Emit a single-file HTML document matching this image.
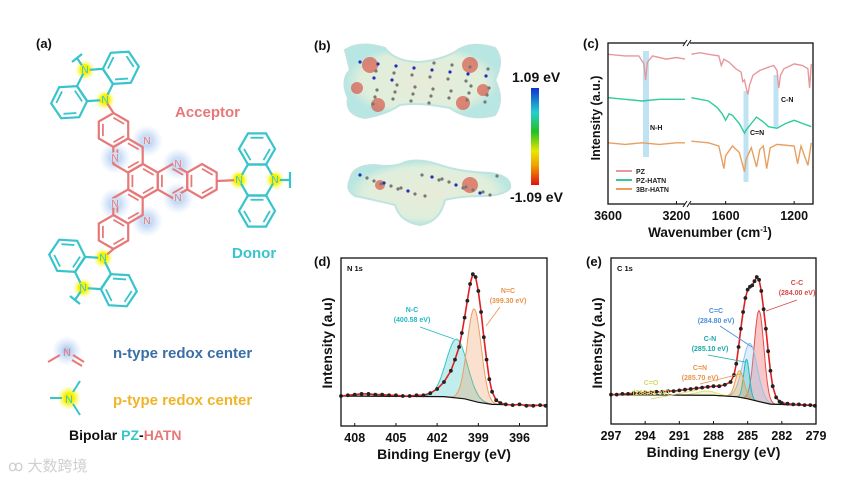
<!DOCTYPE html>
<html><head><meta charset="utf-8"><style>
html,body{margin:0;padding:0;background:#fff;}
svg{display:block;font-family:"Liberation Sans",Arial,sans-serif;}
</style></head><body>
<svg id="fig" width="865" height="481" viewBox="0 0 865 481" xmlns="http://www.w3.org/2000/svg">
<defs>
<radialGradient id="gblue"><stop offset="0" stop-color="#8fb8ee" stop-opacity="0.9"/><stop offset="1" stop-color="#b8d2f4" stop-opacity="0"/></radialGradient>
<radialGradient id="gyel"><stop offset="0.4" stop-color="#f6f200"/><stop offset="1" stop-color="#fafa60" stop-opacity="0"/></radialGradient>
<linearGradient id="cbar" x1="0" y1="1" x2="0" y2="0"><stop offset="0" stop-color="#e01010"/><stop offset="0.2" stop-color="#f0a000"/><stop offset="0.35" stop-color="#e8e800"/><stop offset="0.55" stop-color="#20c020"/><stop offset="0.75" stop-color="#20d0d0"/><stop offset="1" stop-color="#1030d0"/></linearGradient>
<radialGradient id="esp"><stop offset="0" stop-color="#e8ecd8"/><stop offset="0.8" stop-color="#dfeedc"/><stop offset="1" stop-color="#b8e6e2"/></radialGradient>
</defs>
<g id="panelA"></g>
<g id="panelB"></g>
<g id="panelC"></g>
<g id="panelD"></g>
<g id="panelE"></g>
</svg>
<script>
// ---------- Panel C data (FTIR) ----------
const pzLeftX=[3600,3500,3420,3390,3380,3370,3340,3260,3200,3150];
const pzLeftY=[93,92,92,87,77,88,92,90,91,90];
const pzRightX=[1800,1750,1700,1640,1625,1610,1580,1540,1510,1500,1490,1480,1470,1460,1440,1400,1350,1320,1300,1290,1280,1260,1200,1150,1120,1110,1100];
const pzRightY=[93,94,93,92,86,90,88,84,82,76,77,72,68,74,80,83,85,86,83,72,80,84,87,86,84,72,87];
const hatnLeftX=[3600,3500,3400,3300,3200,3150];
const hatnLeftY=[66,65,64,65,65,65];
const hatnRightX=[1800,1700,1650,1620,1600,1580,1560,1520,1500,1490,1480,1450,1420,1380,1350,1300,1250,1200,1150,1100];
const hatnRightY=[66,64,60,56,52,56,55,50,46,44,46,50,54,51,48,47,50,52,50,48];
const brLeftX=[3600,3500,3400,3300,3200,3150];
const brLeftY=[38,37,38,37,38,38];
const brRightX=[1800,1700,1640,1610,1600,1560,1520,1490,1480,1450,1420,1400,1380,1360,1340,1300,1200,1180,1160,1120,1100];
const brRightY=[39,38,36,22,30,36,32,20,28,35,23,34,36,22,35,37,36,25,36,24,38];
const irTicks=[3600,3200,1600,1200];
const irSeriesNames=["PZ","PZ-HATN","3Br-HATN"];
// ---------- Panel D data (N 1s XPS) ----------
const n1sE=[409,408.5,408,407.5,407,406.5,406,405.5,405,404.5,404,403.5,403,402.5,402,401.5,401,400.7,400.4,400.2,400,399.8,399.6,399.4,399.2,399,398.8,398.6,398.4,398.2,398,397.7,397.4,397,396.5,396,395.5,395,394.5,394.1];
const n1sI=[10,10.5,11,11.5,11.5,11,11,10.5,10.5,10,10,10.5,10.5,12,15,20,28,36,45,55,66,78,90,97,95,85,70,52,36,22,13,7,5,4,3.5,4,3,3,3.5,3];
const n1sCompCenter=[400.58,399.30];
const n1sCompHeight=[42,66];
const n1sCompFwhm=[1.8,1.2];
const n1sBgE=[409,401.5,400,399,398,394];
const n1sBgI=[10,9.6,8,5.5,4,3.3];
const n1sTicks=[408,405,402,399,396];
// ---------- Panel E data (C 1s XPS) ----------
const c1sE=[297,296.5,296,295.5,295,294.5,294,293.5,293,292.5,292,291.5,291,290.5,290,289.5,289,288.5,288,287.5,287,286.5,286.2,286,285.8,285.6,285.4,285.2,285,284.8,284.6,284.4,284.2,284,283.8,283.6,283.4,283.2,283,282.8,282.5,282.2,282,281.5,281,280.5,280,279.5,279.1];
const c1sI=[11,11,11.5,11.5,12,12,12.5,12.5,13,13,13.5,13.5,14,14.5,15,15.5,16,16.5,17,17,18,20,25,33,45,58,70,80,86,88,89,92,95,93,85,72,58,42,28,17,9,6,5,4.5,4,4,3.5,3.5,3];
const c1sCompCenter=[284.00,284.80,285.10,285.70,288.61];
const c1sCompHeight=[65,40,28,19,3];
const c1sCompFwhm=[1.0,1.5,0.6,0.9,2.0];
const c1sBgE=[297,288,286,285,284,283,279];
const c1sBgI=[11,10.5,9.5,8,6,4.2,3.2];
const c1sTicks=[297,294,291,288,285,282,279];

const NS="http://www.w3.org/2000/svg";
function mk(parent,tag,attrs,text){const e=document.createElementNS(NS,tag);for(const k in attrs)e.setAttribute(k,attrs[k]);if(text!==undefined)e.textContent=text;parent.appendChild(e);return e;}
function pts(xs,ys,fx,fy){return xs.map((x,i)=>fx(x).toFixed(1)+","+fy(ys[i]).toFixed(1)).join(" ");}

// ================= Panel A =================
(function(){
const g=document.getElementById('panelA');
const RED="#e87878",CY="#38c4cc";
let t=mk(g,'text',{x:36,y:48,'font-size':13,'font-weight':'bold',fill:'#111'},'(a)');

const glowsB=[[115,158],[115,204],[147,141],[147,221],[178,164],[178,198]];
glowsB.forEach(p=>{const c=mk(g,'circle',{cx:p[0],cy:p[1],r:16,fill:'url(#gblue)'});});
const glowsY=[[85,70],[105,100],[239,180],[275,180],[103,258],[83,288]];
glowsY.forEach(p=>{const c=mk(g,'circle',{cx:p[0],cy:p[1],r:10,fill:'url(#gyel)'});});
function hex(cx,cy,r,col,rot,inner){let s="";for(let i=0;i<6;i++){const a=(rot+60*i)*Math.PI/180;s+=(cx+r*Math.cos(a)).toFixed(1)+","+(cy+r*Math.sin(a)).toFixed(1)+" ";}
 const p=mk(g,'polygon',{points:s,fill:'none',stroke:col,'stroke-width':2.2});
 if(inner){for(let i=0;i<6;i+=2){const a1=(rot+60*i)*Math.PI/180,a2=(rot+60*(i+1))*Math.PI/180,q=r*0.72;mk(g,'line',{x1:cx+q*Math.cos(a1),y1:cy+q*Math.sin(a1),x2:cx+q*Math.cos(a2),y2:cy+q*Math.sin(a2),stroke:col,'stroke-width':1.8});}}}
function ln(x1,y1,x2,y2,c){mk(g,'line',{x1:x1,y1:y1,x2:x2,y2:y2,stroke:c,'stroke-width':2.2});}
// acceptor (pointy-top hexagons)
const r=17;
hex(143,181,r,RED,30,true);
hex(172.5,181,r,RED,30,true);hex(202,181,r,RED,30,true);
hex(128,155.5,r,RED,30,true);hex(113.5,130,r,RED,30,true);
hex(128,206.5,r,RED,30,true);hex(113.5,232,r,RED,30,true);
// donor right
hex(257,180,18,CY,0,false);hex(257,149,18,CY,0,true);hex(257,211,18,CY,0,true);
ln(216.7,181,239,180,RED);ln(275,180,290,180,CY);ln(290,172,290,188,CY);
// donor top
hex(95,85,18,CY,56.3,false);hex(120.8,67.8,18,CY,56.3,true);hex(69.2,102.2,18,CY,56.3,true);
ln(105,100,113.5,113,RED);ln(85,70,77,58,CY);ln(72,62,82,54,CY);
// donor bottom
hex(93,273,18,CY,123.7,false);hex(118.8,290.2,18,CY,123.7,true);hex(67.2,255.8,18,CY,123.7,true);
ln(103,258,113.5,249,RED);ln(83,288,75,300,CY);ln(70,296,80,304,CY);
[[178,164],[178,198],[115,158],[115,204],[147,141],[147,221]].forEach(p=>{mk(g,'circle',{cx:p[0],cy:p[1]-1,r:5,fill:'#cfe0f6'});mk(g,'text',{x:p[0],y:p[1]+3,'font-size':10,'text-anchor':'middle',fill:RED},'N');});
[[85,70],[105,100],[239,180],[275,180],[103,258],[83,288]].forEach(p=>{mk(g,'circle',{cx:p[0],cy:p[1]-1,r:5,fill:'#f6f200'});mk(g,'text',{x:p[0],y:p[1]+3,'font-size':10,'text-anchor':'middle',fill:CY},'N');});
t=mk(g,'text',{x:175,y:117,'font-size':15,'font-weight':'bold',fill:RED},'Acceptor');
t=mk(g,'text',{x:232,y:258,'font-size':15,'font-weight':'bold',fill:CY},'Donor');
// legend
mk(g,'circle',{cx:67,cy:351,r:15,fill:'url(#gblue)'});
mk(g,'text',{x:67,y:356,'font-size':11,'text-anchor':'middle',fill:RED},'N');
mk(g,'line',{x1:48,y1:362,x2:60,y2:355,stroke:RED,'stroke-width':2});
mk(g,'line',{x1:73,y1:355,x2:84,y2:362,stroke:RED,'stroke-width':2});
mk(g,'line',{x1:72,y1:360,x2:82,y2:366,stroke:RED,'stroke-width':2});
t=mk(g,'text',{x:113,y:358,'font-size':15,'font-weight':'bold',fill:'#3a6ea8'},'n-type redox center');
mk(g,'circle',{cx:69,cy:398,r:12,fill:'url(#gyel)'});
mk(g,'text',{x:69,y:403,'font-size':11,'text-anchor':'middle',fill:CY},'N');
mk(g,'line',{x1:50,y1:398,x2:62,y2:398,stroke:CY,'stroke-width':2});
mk(g,'line',{x1:73,y1:392,x2:80,y2:381,stroke:CY,'stroke-width':2});
mk(g,'line',{x1:73,y1:404,x2:80,y2:415,stroke:CY,'stroke-width':2});
t=mk(g,'text',{x:113,y:405,'font-size':15,'font-weight':'bold',fill:'#f0b428'},'p-type redox center');
t=mk(g,'text',{x:69,y:440,'font-size':14,'font-weight':'bold',fill:'#111'});
mk(t,'tspan',{},'Bipolar ');mk(t,'tspan',{fill:CY},'PZ');mk(t,'tspan',{},'-');mk(t,'tspan',{fill:RED},'HATN');
t=mk(g,'text',{x:8,y:471,'font-size':15,fill:'#cfcfcf','font-family':'"Liberation Sans","Noto Sans CJK SC",sans-serif'},'ꝏ 大数跨境');
})();

// ================= Panel B =================
(function(){
const g=document.getElementById('panelB');
let t=mk(g,'text',{x:314,y:50,'font-size':13,'font-weight':'bold',fill:'#111'},'(b)');
let b=mk(g,'path',{d:'M345,50 Q360,40 385,48 Q395,62 420,62 Q440,60 455,52 Q470,40 495,48 Q505,60 495,80 Q505,100 495,115 Q470,122 450,108 Q420,102 400,105 Q385,115 365,118 Q345,115 348,98 Q340,80 350,70 Z',fill:'url(#esp)',stroke:'#bfe4e0','stroke-width':2});

b=mk(g,'path',{d:'M350,180 Q352,165 375,165 Q395,168 405,162 Q420,158 440,165 Q460,172 490,173 Q512,176 510,188 Q505,195 485,196 Q460,196 445,200 Q440,222 420,225 Q400,222 395,205 Q375,200 355,196 Q345,190 350,180 Z',fill:'url(#esp)',stroke:'#bfe4e0','stroke-width':2});

[[370,65,8],[357,88,6],[378,105,7],[470,65,8],[483,90,6],[463,103,7],[470,185,8],[380,185,5]].forEach(p=>mk(g,'circle',{cx:p[0],cy:p[1],r:p[2],fill:'#d84030',opacity:0.6}));
for(let i=0;i<40;i++){mk(g,'circle',{cx:360+((i*37)%130),cy:62+((i*23)%45),r:1.6,fill:i%4?'#777':'#2030b0'});}
for(let i=0;i<24;i++){mk(g,'circle',{cx:360+((i*41)%140),cy:175+((i*13)%22),r:1.6,fill:i%4?'#777':'#2030b0'});}
b=mk(g,'rect',{x:531,y:88,width:8,height:97,fill:'url(#cbar)'});
t=mk(g,'text',{x:512,y:82,'font-size':14,'font-weight':'bold',fill:'#111'},'1.09 eV');
t=mk(g,'text',{x:510,y:202,'font-size':14,'font-weight':'bold',fill:'#111'},'-1.09 eV');
})();

// ================= Panel C =================
(function(){
const g=document.getElementById('panelC');
const L=608,R=813,T=43,B=204,BRK=687;
const fxL=w=>L+(3600-w)*(BRK-2-L)/(3600-3150);
const fxR=w=>BRK+3+(1808-w)*(R-BRK-3)/(1808-1090);
const fy=v=>B-v*1.61;
let t=mk(g,'text',{x:583,y:48,'font-size':13,'font-weight':'bold',fill:'#111'},'(c)');
[[646,6,51,157],[746,5,91,182],[776,5,75,128]].forEach(h=>{const r=mk(g,'rect',{x:h[0]-h[1]/2,y:h[2],width:h[1],height:h[3]-h[2],fill:'#bfe3f3'});});
const cols=["#e8989c","#2ecc9c","#e8a060"];
const sets=[[pzLeftX,pzLeftY,pzRightX,pzRightY],[hatnLeftX,hatnLeftY,hatnRightX,hatnRightY],[brLeftX,brLeftY,brRightX,brRightY]];
sets.forEach((s,i)=>{
 let p=mk(g,'polyline',{points:pts(s[0],s[1],fxL,fy),fill:'none',stroke:cols[i],'stroke-width':1.4});
 
 p=mk(g,'polyline',{points:pts(s[2],s[3],fxR,fy),fill:'none',stroke:cols[i],'stroke-width':1.4});
 
});
let f=mk(g,'rect',{x:L,y:T,width:R-L,height:B-T,fill:'none',stroke:'#111','stroke-width':1.3});
mk(g,'rect',{x:BRK-2,y:T-4,width:5,height:8,fill:'#fff'});mk(g,'rect',{x:BRK-2,y:B-4,width:5,height:8,fill:'#fff'});
[T,B].forEach(y=>{mk(g,'line',{x1:BRK-4,y1:y+3,x2:BRK,y2:y-3,stroke:'#111','stroke-width':1});mk(g,'line',{x1:BRK,y1:y+3,x2:BRK+4,y2:y-3,stroke:'#111','stroke-width':1});});
irTicks.forEach((w,i)=>{const x=i<2?fxL(w):fxR(w);t=mk(g,'text',{x:x,y:220,'font-size':12.5,'font-weight':'bold','text-anchor':'middle',fill:'#111'},w);mk(g,'line',{x1:x,y1:B,x2:x,y2:B-3,stroke:'#111'});});
t=mk(g,'text',{x:710,y:237,'font-size':13.5,'font-weight':'bold','text-anchor':'middle',fill:'#111'});
mk(t,'tspan',{},'Wavenumber (cm');mk(t,'tspan',{'font-size':8,dy:-5},'-1');mk(t,'tspan',{dy:5},')');
t=mk(g,'text',{x:0,y:0,'font-size':12.5,'font-weight':'bold','text-anchor':'middle',fill:'#111',transform:'translate(600,118) rotate(-90)'},'Intensity (a.u.)');
[["N-H",650,130],["C=N",750,135],["C-N",781,102]].forEach(a=>{t=mk(g,'text',{x:a[1],y:a[2],'font-size':7,'font-weight':'bold',fill:'#111'},a[0]);});
irSeriesNames.forEach((n,i)=>{const y=171+i*9;mk(g,'line',{x1:616,y1:y,x2:632,y2:y,stroke:cols[i],'stroke-width':2});t=mk(g,'text',{x:636,y:y+3,'font-size':7,'font-weight':'bold',fill:'#222'},n);});
})();

// ================= XPS helper =================
function xps(gid,L,R,T,B,Emax,Emin,E,I,cc,ch,cw,bgE,bgI,ticks,cols,label,lx,core,annos){
 const g=document.getElementById(gid);
 const fx=e=>L+(Emax-e)*(R-L)/(Emax-Emin);
 const fy=v=>410-v*1.4;
 const bgAt=e=>{for(let i=0;i<bgE.length-1;i++){if(e<=bgE[i]&&e>=bgE[i+1]){const f=(bgE[i]-e)/(bgE[i]-bgE[i+1]);return bgI[i]+f*(bgI[i+1]-bgI[i]);}}return bgI[bgI.length-1];};
 let t=mk(g,'text',{x:lx,y:266,'font-size':13,'font-weight':'bold',fill:'#111'},label);
 const grid=[];for(let e=Emax;e>=Emin-1e-9;e-=0.05)grid.push(e);
 cc.forEach((c,k)=>{
  const comp=e=>ch[k]*Math.exp(-4*Math.LN2*Math.pow((e-c)/cw[k],2));
  let top=grid.map(e=>fx(e).toFixed(1)+","+fy(bgAt(e)+comp(e)).toFixed(1)).join(" ");
  let bot=grid.slice().reverse().map(e=>fx(e).toFixed(1)+","+fy(bgAt(e)).toFixed(1)).join(" ");
  let p=mk(g,'polygon',{points:top+" "+bot,fill:cols[k],'fill-opacity':0.3,stroke:'none'});
  p=mk(g,'polyline',{points:top,fill:'none',stroke:cols[k],'stroke-width':1});
 });
 let p=mk(g,'polyline',{points:pts(bgE,bgI,fx,fy),fill:'none',stroke:'#111','stroke-width':1.2});
 p=mk(g,'polyline',{points:pts(E,I,fx,fy),fill:'none',stroke:'#e02020','stroke-width':1.6});
 E.forEach((e,i)=>{const c=mk(g,'circle',{cx:fx(e),cy:fy(I[i]),r:1.9,fill:'#222'});});
 let f=mk(g,'rect',{x:L,y:T,width:R-L,height:B-T,fill:'none',stroke:'#111','stroke-width':1.3});
 ticks.forEach(v=>{const x=fx(v);mk(g,'line',{x1:x,y1:B,x2:x,y2:B-3,stroke:'#111'});t=mk(g,'text',{x:x,y:B+16,'font-size':12.5,'font-weight':'bold','text-anchor':'middle',fill:'#111'},v);});
 t=mk(g,'text',{x:(L+R)/2,y:B+33,'font-size':14,'font-weight':'bold','text-anchor':'middle',fill:'#111'},'Binding Energy (eV)');
 t=mk(g,'text',{x:0,y:0,'font-size':14,'font-weight':'bold','text-anchor':'middle',fill:'#111',transform:'translate('+(L-9)+','+(T+85)+') rotate(-90)'},'Intensity (a.u)');
 t=mk(g,'text',{x:L+6,y:T+13,'font-size':7.5,'font-weight':'bold',fill:'#111'},core);
 annos.forEach(a=>{t=mk(g,'text',{x:a[1],y:a[2],'font-size':7,'font-weight':'bold','text-anchor':'middle',fill:a[3]},a[0]);
  t=mk(g,'text',{x:a[1],y:a[2]+10,'font-size':7,'font-weight':'bold','text-anchor':'middle',fill:a[3]},a[4]);
  mk(g,'line',{x1:a[5],y1:a[6],x2:a[7],y2:a[8],stroke:a[3],'stroke-width':0.8});});
}
xps('panelD',341,547,258,426,409.0,394.0,n1sE,n1sI,n1sCompCenter,n1sCompHeight,n1sCompFwhm,n1sBgE,n1sBgI,n1sTicks,["#2ec8c8","#f09a60"],'(d)',314,'N 1s',
 [["N-C",412,312,"#22b8c0","(400.58 eV)",420,327,454,339],["N=C",508,293,"#e8944a","(399.30 eV)",500,307,486,326]]);
xps('panelE',611,816,258,424,297,279,c1sE,c1sI,c1sCompCenter,c1sCompHeight,c1sCompFwhm,c1sBgE,c1sBgI,c1sTicks,["#e84848","#8ec4ee","#20b8b8","#f0a040","#d8e070"],'(e)',586,'C 1s',
 [["C-C",797,285,"#d84848","(284.00 eV)",797,300,766,311],["C=C",716,313,"#4a90d8","(284.80 eV)",720,326,752,347],["C-N",710,341,"#1aa8a8","(285.10 eV)",708,355,745,362],["C=N",700,370,"#e8944a","(285.70 eV)",700,384,740,374],["C=O",651,385,"#d8d860","(288.61 eV)",651,399,698,390]]);
</script>
</body></html>
